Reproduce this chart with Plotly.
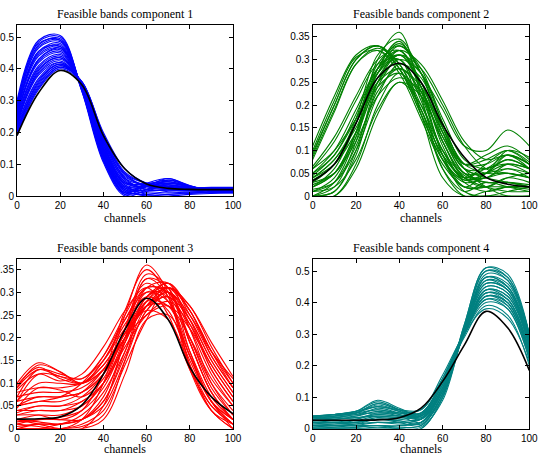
import plotly.graph_objects as go

channels = [0, 10, 20, 30, 40, 50, 60, 70, 80, 90, 100]

# Component 1 (blue) feasible band curves
comp1_bands = [
    [0.30, 0.49, 0.505, 0.33, 0.105, 0.0, 0.02, 0.05, 0.032, 0.014, 0.01],
    [0.285, 0.485, 0.50, 0.335, 0.11, 0.005, 0.03, 0.055, 0.03, 0.015, 0.011],
    [0.29, 0.475, 0.495, 0.335, 0.115, 0.01, 0.035, 0.05, 0.03, 0.016, 0.012],
    [0.28, 0.47, 0.49, 0.335, 0.12, 0.01, 0.015, 0.04, 0.028, 0.015, 0.01],
    [0.275, 0.465, 0.485, 0.34, 0.12, 0.015, 0.03, 0.045, 0.03, 0.017, 0.013],
    [0.27, 0.455, 0.48, 0.34, 0.125, 0.015, 0.005, 0.015, 0.015, 0.013, 0.012],
    [0.265, 0.45, 0.475, 0.34, 0.13, 0.02, 0.035, 0.045, 0.03, 0.018, 0.014],
    [0.275, 0.445, 0.47, 0.34, 0.13, 0.02, 0.02, 0.035, 0.025, 0.016, 0.013],
    [0.26, 0.44, 0.465, 0.345, 0.135, 0.025, 0.03, 0.04, 0.028, 0.018, 0.015],
    [0.255, 0.43, 0.46, 0.345, 0.14, 0.025, 0.01, 0.01, 0.012, 0.012, 0.012],
    [0.25, 0.425, 0.455, 0.345, 0.145, 0.03, 0.035, 0.04, 0.03, 0.02, 0.016],
    [0.255, 0.42, 0.45, 0.345, 0.145, 0.03, 0.015, 0.02, 0.018, 0.016, 0.015],
    [0.245, 0.41, 0.445, 0.35, 0.15, 0.035, 0.03, 0.035, 0.026, 0.02, 0.017],
    [0.24, 0.405, 0.44, 0.35, 0.155, 0.035, 0.005, 0.005, 0.01, 0.012, 0.012],
    [0.235, 0.40, 0.435, 0.35, 0.16, 0.04, 0.03, 0.03, 0.024, 0.02, 0.018],
    [0.23, 0.39, 0.43, 0.35, 0.16, 0.045, 0.02, 0.02, 0.018, 0.017, 0.016],
    [0.235, 0.385, 0.425, 0.35, 0.165, 0.045, 0.035, 0.035, 0.027, 0.022, 0.019],
    [0.225, 0.38, 0.42, 0.355, 0.17, 0.05, 0.025, 0.022, 0.02, 0.019, 0.018],
    [0.22, 0.37, 0.42, 0.355, 0.17, 0.055, 0.035, 0.028, 0.024, 0.022, 0.02],
    [0.215, 0.365, 0.415, 0.355, 0.175, 0.055, 0.02, 0.018, 0.018, 0.018, 0.018],
    [0.21, 0.36, 0.415, 0.355, 0.18, 0.06, 0.035, 0.028, 0.025, 0.024, 0.023],
    [0.205, 0.355, 0.41, 0.355, 0.18, 0.065, 0.03, 0.024, 0.022, 0.021, 0.021],
    [0.205, 0.35, 0.41, 0.36, 0.185, 0.07, 0.04, 0.03, 0.027, 0.025, 0.024],
    [0.20, 0.345, 0.405, 0.36, 0.19, 0.07, 0.03, 0.025, 0.024, 0.024, 0.024],
    [0.195, 0.34, 0.405, 0.36, 0.195, 0.075, 0.04, 0.03, 0.027, 0.026, 0.026],
    [0.19, 0.335, 0.40, 0.355, 0.20, 0.085, 0.04, 0.03, 0.027, 0.027, 0.027],
    [0.29, 0.48, 0.49, 0.33, 0.115, 0.005, 0.0, 0.005, 0.008, 0.01, 0.01],
    [0.26, 0.455, 0.47, 0.335, 0.125, 0.01, 0.04, 0.055, 0.033, 0.016, 0.011],
    [0.25, 0.43, 0.465, 0.345, 0.135, 0.02, 0.0, 0.0, 0.005, 0.008, 0.01],
    [0.22, 0.395, 0.435, 0.35, 0.15, 0.04, 0.04, 0.045, 0.03, 0.02, 0.016],
]
comp1_est = [0.19, 0.325, 0.395, 0.35, 0.19, 0.085, 0.038, 0.024, 0.021, 0.02, 0.02]

# Component 2 (green)
comp2_bands = [
    [0.11, 0.22, 0.31, 0.33, 0.28, 0.18, 0.08, 0.03, 0.04, 0.05, 0.04],
    [0.095, 0.20, 0.30, 0.33, 0.29, 0.19, 0.09, 0.04, 0.06, 0.07, 0.05],
    [0.08, 0.185, 0.29, 0.325, 0.29, 0.20, 0.10, 0.045, 0.03, 0.03, 0.025],
    [0.10, 0.21, 0.305, 0.32, 0.27, 0.17, 0.07, 0.02, 0.02, 0.02, 0.015],
    [0.09, 0.20, 0.30, 0.33, 0.28, 0.18, 0.08, 0.035, 0.05, 0.07, 0.06],
    [0.085, 0.19, 0.29, 0.32, 0.28, 0.19, 0.09, 0.04, 0.02, 0.01, 0.01],
    [0.01, 0.04, 0.14, 0.30, 0.36, 0.22, 0.06, 0.0, 0.0, 0.0, 0.0],
    [0.03, 0.07, 0.17, 0.31, 0.345, 0.27, 0.19, 0.11, 0.10, 0.145, 0.11],
    [0.0, 0.02, 0.12, 0.28, 0.34, 0.24, 0.09, 0.01, 0.0, 0.01, 0.02],
    [0.02, 0.06, 0.16, 0.29, 0.33, 0.27, 0.15, 0.07, 0.09, 0.11, 0.08],
    [0.05, 0.09, 0.18, 0.28, 0.32, 0.25, 0.13, 0.05, 0.03, 0.03, 0.02],
    [0.0, 0.01, 0.09, 0.24, 0.30, 0.18, 0.04, 0.0, 0.01, 0.02, 0.02],
    [0.04, 0.08, 0.15, 0.25, 0.30, 0.27, 0.17, 0.08, 0.06, 0.08, 0.06],
    [0.015, 0.03, 0.10, 0.22, 0.29, 0.26, 0.15, 0.06, 0.05, 0.09, 0.07],
    [0.06, 0.10, 0.17, 0.25, 0.28, 0.23, 0.12, 0.04, 0.02, 0.04, 0.05],
    [0.0, 0.0, 0.07, 0.20, 0.27, 0.19, 0.06, 0.01, 0.03, 0.02, 0.01],
    [0.03, 0.05, 0.12, 0.22, 0.26, 0.23, 0.14, 0.07, 0.08, 0.10, 0.07],
    [0.01, 0.02, 0.08, 0.19, 0.25, 0.22, 0.12, 0.04, 0.04, 0.06, 0.04],
    [0.045, 0.09, 0.17, 0.27, 0.31, 0.24, 0.11, 0.035, 0.05, 0.10, 0.085],
    [0.02, 0.05, 0.14, 0.27, 0.33, 0.28, 0.16, 0.06, 0.02, 0.0, 0.0],
    [0.06, 0.12, 0.21, 0.29, 0.30, 0.22, 0.10, 0.04, 0.07, 0.10, 0.075],
    [0.0, 0.03, 0.13, 0.27, 0.30, 0.21, 0.08, 0.02, 0.05, 0.08, 0.06],
    [0.035, 0.07, 0.16, 0.28, 0.335, 0.27, 0.14, 0.05, 0.04, 0.07, 0.06],
    [0.025, 0.05, 0.13, 0.25, 0.31, 0.27, 0.16, 0.07, 0.07, 0.09, 0.06],
    [0.0, 0.01, 0.10, 0.25, 0.32, 0.23, 0.09, 0.02, 0.02, 0.04, 0.03],
    [0.05, 0.10, 0.19, 0.28, 0.31, 0.25, 0.14, 0.06, 0.06, 0.09, 0.07],
    [0.01, 0.03, 0.11, 0.23, 0.28, 0.24, 0.15, 0.07, 0.05, 0.05, 0.04],
    [0.04, 0.07, 0.14, 0.24, 0.27, 0.22, 0.13, 0.06, 0.04, 0.03, 0.02],
    [0.0, 0.0, 0.06, 0.18, 0.25, 0.20, 0.10, 0.03, 0.01, 0.02, 0.02],
    [0.065, 0.13, 0.22, 0.30, 0.32, 0.24, 0.12, 0.05, 0.05, 0.06, 0.05],
    [0.02, 0.05, 0.14, 0.26, 0.31, 0.28, 0.20, 0.11, 0.06, 0.05, 0.04],
    [0.04, 0.08, 0.16, 0.27, 0.32, 0.29, 0.21, 0.12, 0.08, 0.09, 0.07],
]
comp2_est = [0.033, 0.07, 0.16, 0.26, 0.292, 0.25, 0.157, 0.085, 0.041, 0.026, 0.02]

# Component 3 (red)
comp3_bands = [
    [0.01, 0.005, 0.0, 0.02, 0.10, 0.25, 0.36, 0.30, 0.14, 0.04, 0.0],
    [0.03, 0.03, 0.02, 0.04, 0.12, 0.26, 0.35, 0.29, 0.13, 0.04, 0.01],
    [0.0, 0.0, 0.0, 0.0, 0.05, 0.20, 0.33, 0.29, 0.14, 0.04, 0.0],
    [0.09, 0.14, 0.125, 0.10, 0.15, 0.23, 0.29, 0.26, 0.15, 0.06, 0.02],
    [0.07, 0.13, 0.12, 0.11, 0.16, 0.24, 0.30, 0.28, 0.17, 0.07, 0.02],
    [0.05, 0.06, 0.06, 0.08, 0.13, 0.21, 0.29, 0.32, 0.25, 0.16, 0.09],
    [0.02, 0.03, 0.03, 0.05, 0.10, 0.19, 0.28, 0.32, 0.26, 0.17, 0.10],
    [0.0, 0.01, 0.01, 0.03, 0.08, 0.17, 0.27, 0.31, 0.26, 0.17, 0.09],
    [0.08, 0.09, 0.09, 0.10, 0.14, 0.21, 0.27, 0.30, 0.24, 0.15, 0.08],
    [0.04, 0.05, 0.05, 0.06, 0.10, 0.20, 0.30, 0.29, 0.20, 0.10, 0.04],
    [0.0, 0.0, 0.01, 0.02, 0.06, 0.16, 0.26, 0.30, 0.23, 0.13, 0.06],
    [0.10, 0.145, 0.125, 0.10, 0.13, 0.20, 0.25, 0.27, 0.22, 0.14, 0.07],
    [0.06, 0.12, 0.115, 0.10, 0.14, 0.21, 0.26, 0.24, 0.14, 0.05, 0.01],
    [0.01, 0.02, 0.02, 0.02, 0.06, 0.17, 0.28, 0.27, 0.16, 0.06, 0.01],
    [0.02, 0.01, 0.0, 0.0, 0.02, 0.12, 0.24, 0.25, 0.16, 0.06, 0.0],
    [0.05, 0.06, 0.07, 0.10, 0.16, 0.25, 0.32, 0.28, 0.16, 0.06, 0.02],
    [0.03, 0.04, 0.04, 0.06, 0.10, 0.18, 0.25, 0.28, 0.23, 0.14, 0.07],
    [0.0, 0.0, 0.0, 0.01, 0.04, 0.14, 0.24, 0.31, 0.27, 0.18, 0.10],
    [0.085, 0.12, 0.105, 0.12, 0.18, 0.26, 0.31, 0.25, 0.13, 0.05, 0.01],
    [0.045, 0.09, 0.085, 0.07, 0.11, 0.22, 0.33, 0.31, 0.19, 0.08, 0.02],
    [0.06, 0.10, 0.10, 0.10, 0.15, 0.24, 0.31, 0.30, 0.20, 0.09, 0.03],
    [0.015, 0.02, 0.025, 0.04, 0.09, 0.19, 0.29, 0.31, 0.24, 0.13, 0.06],
    [0.0, 0.0, 0.0, 0.005, 0.03, 0.15, 0.29, 0.30, 0.19, 0.08, 0.02],
    [0.07, 0.08, 0.08, 0.09, 0.13, 0.21, 0.28, 0.31, 0.26, 0.16, 0.09],
    [0.035, 0.05, 0.05, 0.07, 0.12, 0.22, 0.31, 0.30, 0.19, 0.08, 0.02],
    [0.02, 0.015, 0.01, 0.02, 0.07, 0.19, 0.31, 0.32, 0.22, 0.10, 0.03],
    [0.09, 0.13, 0.115, 0.11, 0.15, 0.22, 0.27, 0.29, 0.24, 0.15, 0.08],
    [0.05, 0.07, 0.07, 0.08, 0.12, 0.20, 0.27, 0.27, 0.20, 0.11, 0.05],
    [0.005, 0.01, 0.01, 0.02, 0.05, 0.15, 0.26, 0.29, 0.22, 0.12, 0.05],
    [0.04, 0.04, 0.04, 0.05, 0.10, 0.22, 0.34, 0.31, 0.17, 0.06, 0.01],
    [0.06, 0.07, 0.07, 0.08, 0.12, 0.20, 0.27, 0.31, 0.27, 0.19, 0.115],
    [0.095, 0.135, 0.11, 0.10, 0.13, 0.20, 0.27, 0.30, 0.25, 0.17, 0.11],
]
comp3_est = [0.021, 0.022, 0.026, 0.052, 0.12, 0.218, 0.287, 0.24, 0.135, 0.07, 0.033]

# Component 4 (teal)
comp4_bands = [
    [0.0, 0.0, 0.0, 0.0, 0.0, 0.0, 0.10, 0.33, 0.51, 0.48, 0.30],
    [0.02, 0.02, 0.02, 0.03, 0.02, 0.01, 0.11, 0.32, 0.50, 0.47, 0.29],
    [0.035, 0.045, 0.055, 0.085, 0.06, 0.03, 0.12, 0.32, 0.48, 0.45, 0.28],
    [0.03, 0.04, 0.05, 0.075, 0.055, 0.035, 0.13, 0.31, 0.46, 0.44, 0.27],
    [0.01, 0.01, 0.01, 0.01, 0.01, 0.02, 0.12, 0.31, 0.45, 0.43, 0.26],
    [0.04, 0.045, 0.05, 0.06, 0.05, 0.05, 0.15, 0.31, 0.43, 0.41, 0.25],
    [0.0, 0.005, 0.01, 0.02, 0.02, 0.03, 0.13, 0.30, 0.42, 0.40, 0.24],
    [0.025, 0.03, 0.04, 0.065, 0.05, 0.04, 0.14, 0.30, 0.41, 0.39, 0.23],
    [0.03, 0.035, 0.045, 0.05, 0.05, 0.06, 0.16, 0.30, 0.40, 0.38, 0.22],
    [0.015, 0.02, 0.025, 0.04, 0.035, 0.04, 0.15, 0.29, 0.39, 0.36, 0.20],
    [0.035, 0.04, 0.05, 0.08, 0.06, 0.05, 0.16, 0.31, 0.44, 0.42, 0.27],
    [0.005, 0.01, 0.015, 0.03, 0.025, 0.015, 0.10, 0.31, 0.49, 0.47, 0.30],
    [0.04, 0.045, 0.055, 0.07, 0.06, 0.06, 0.17, 0.30, 0.38, 0.35, 0.21],
    [0.02, 0.025, 0.03, 0.05, 0.04, 0.02, 0.11, 0.31, 0.47, 0.45, 0.29],
    [0.01, 0.015, 0.02, 0.035, 0.03, 0.03, 0.13, 0.30, 0.43, 0.41, 0.25],
    [0.03, 0.035, 0.045, 0.06, 0.045, 0.03, 0.12, 0.31, 0.47, 0.44, 0.28],
    [0.0, 0.0, 0.005, 0.01, 0.0, 0.005, 0.09, 0.32, 0.50, 0.48, 0.30],
    [0.025, 0.03, 0.035, 0.045, 0.04, 0.05, 0.15, 0.30, 0.42, 0.39, 0.23],
    [0.035, 0.04, 0.05, 0.07, 0.055, 0.04, 0.13, 0.31, 0.45, 0.43, 0.27],
    [0.015, 0.015, 0.02, 0.03, 0.025, 0.02, 0.11, 0.31, 0.48, 0.46, 0.29],
    [0.005, 0.005, 0.005, 0.01, 0.005, 0.01, 0.11, 0.31, 0.46, 0.44, 0.27],
    [0.04, 0.045, 0.05, 0.08, 0.06, 0.045, 0.14, 0.30, 0.42, 0.40, 0.24],
    [0.02, 0.02, 0.03, 0.045, 0.04, 0.045, 0.15, 0.30, 0.41, 0.38, 0.22],
    [0.03, 0.035, 0.04, 0.055, 0.045, 0.035, 0.12, 0.31, 0.48, 0.45, 0.28],
    [0.01, 0.01, 0.015, 0.02, 0.015, 0.02, 0.12, 0.30, 0.44, 0.42, 0.26],
    [0.038, 0.045, 0.055, 0.09, 0.065, 0.04, 0.13, 0.30, 0.44, 0.41, 0.25],
    [0.0, 0.0, 0.0, 0.005, 0.0, 0.0, 0.10, 0.33, 0.51, 0.49, 0.30],
    [0.025, 0.03, 0.035, 0.04, 0.035, 0.04, 0.14, 0.30, 0.43, 0.40, 0.24],
]
comp4_est = [0.027, 0.027, 0.027, 0.028, 0.035, 0.065, 0.15, 0.265, 0.372, 0.32, 0.185]

titles = ["Feasible bands component 1", "Feasible bands component 2",
          "Feasible bands component 3", "Feasible bands component 4"]
xlabel = "channels"
colors = ["#0000FF", "#008000", "#FF0000", "#008080"]
bands = [comp1_bands, comp2_bands, comp3_bands, comp4_bands]
estimates = [comp1_est, comp2_est, comp3_est, comp4_est]
y_ranges = [[0, 0.538], [0, 0.376], [0, 0.374], [0, 0.539]]
y_dticks = [0.1, 0.05, 0.05, 0.1]

W, H = 541, 454
x_domains = [[17 / W, 233 / W], [312.7 / W, 529.3 / W]] * 2
y_top = [(H - 196) / H, (H - 25) / H]
y_bot = [(H - 428.7) / H, (H - 258.7) / H]
y_domains = [y_top, y_top, y_bot, y_bot]
title_y = [(H - 14) / H, (H - 14) / H, (H - 247.7) / H, (H - 247.7) / H]
xlabel_y = [(H - 218) / H, (H - 218) / H, (H - 448.5) / H, (H - 448.5) / H]

fig = go.Figure()
layout = dict(template="none", width=W, height=H,
              margin=dict(l=0, r=0, t=0, b=0, pad=0, autoexpand=False),
              paper_bgcolor="white", plot_bgcolor="white", showlegend=False)
annotations = []
for i in range(4):
    n = "" if i == 0 else str(i + 1)
    xa, ya = "x" + n, "y" + n
    for curve in bands[i]:
        fig.add_trace(go.Scatter(x=channels, y=curve, mode="lines", xaxis=xa, yaxis=ya,
                                 line=dict(color=colors[i], width=1.1, shape="spline"),
                                 hoverinfo="skip"))
    fig.add_trace(go.Scatter(x=channels, y=estimates[i], mode="lines", xaxis=xa, yaxis=ya,
                             line=dict(color="black", width=1.6, shape="spline"),
                             hoverinfo="skip"))
    common = dict(showline=True, linecolor="black", linewidth=1, mirror="ticks",
                  ticks="inside", ticklen=4, tickcolor="black", showgrid=False,
                  zeroline=False, automargin=False,
                  tickfont=dict(family="Liberation Sans, Arial", size=10, color="black"))
    layout["xaxis" + n] = dict(domain=x_domains[i], range=[0, 100], dtick=20, tick0=0,
                               anchor=ya, **common)
    layout["yaxis" + n] = dict(domain=y_domains[i], range=y_ranges[i], dtick=y_dticks[i],
                               tick0=0, anchor=xa, **common)
    xc = (x_domains[i][0] + x_domains[i][1]) / 2
    annotations.append(dict(text=titles[i], x=xc, y=title_y[i], xref="paper", yref="paper",
                            showarrow=False, xanchor="center", yanchor="middle",
                            font=dict(family="Liberation Serif, Times New Roman", size=12,
                                      color="black")))
    annotations.append(dict(text=xlabel, x=xc, y=xlabel_y[i], xref="paper", yref="paper",
                            showarrow=False, xanchor="center", yanchor="middle",
                            font=dict(family="Liberation Serif, Times New Roman", size=12,
                                      color="black")))
layout["annotations"] = annotations
fig.update_layout(**layout)

page_fix = (
    "var de=document.documentElement, b=document.body;"
    "de.style.margin='0';de.style.padding='0';de.style.overflow='hidden';"
    "b.style.margin='0';b.style.padding='0';b.style.overflow='hidden';"
)
fig.write_html("out.html", config={"displayModeBar": False}, post_script=page_fix)
